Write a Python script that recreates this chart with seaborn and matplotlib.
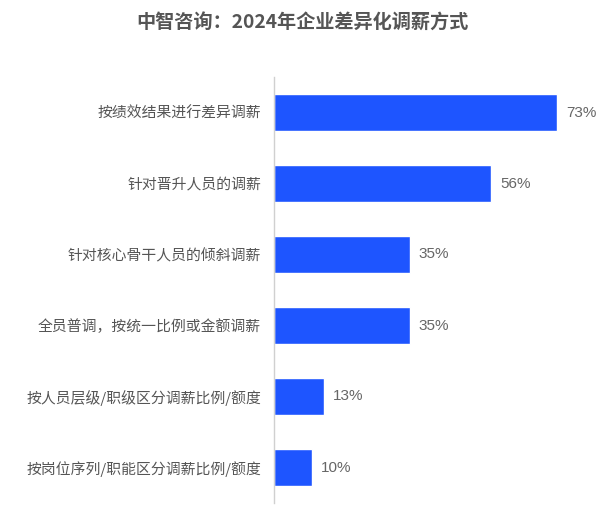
import matplotlib
matplotlib.use("Agg")
import matplotlib.pyplot as plt
import seaborn as sns
import pandas as pd

categories = ["按绩效结果进行差异调薪", "针对晋升人员的调薪", "针对核心骨干人员的倾斜调薪",
              "全员普调，按统一比例或金额调薪", "按人员层级/职级区分调薪比例/额度",
              "按岗位序列/职能区分调薪比例/额度"]
values = [73, 56, 35, 35, 13, 10]
title = "中智咨询：2024年企业差异化调薪方式"

sns.set_theme(style="white")
plt.rcParams['font.family'] = ['Noto Sans CJK SC', 'DejaVu Sans']

df = pd.DataFrame({"cat": categories, "val": values})

top_px, bot_px = 77, 503
fig = plt.figure(figsize=(6.04, 5.25), dpi=100)
ax = fig.add_axes([273.5/604, 1-bot_px/525, 1-273.5/604-0.003, (bot_px-top_px)/525])
sns.barplot(data=df, y="cat", x="val", color="#1E55FF", saturation=1, width=0.52, ax=ax)
ax.set_xlim(0, 84.5)
ax.set_ylim(5.5, -0.5)
ax.set_xlabel("")
ax.set_ylabel("")
ax.set_xticks([])
for s in ["top", "right", "bottom"]:
    ax.spines[s].set_visible(False)
ax.spines["left"].set_color("#d0d0d0")
ax.spines["left"].set_linewidth(1)
ax.tick_params(axis="y", length=0, pad=9, labelsize=10.7, labelcolor="#555555")
for i, v in enumerate(values):
    ax.text(v + 2.2, i, f"{v}%", va="center", ha="left", fontsize=11, color="#666666",
            family=["Liberation Sans", "DejaVu Sans"])
fig.text(0.5, 1-23/525, title, ha="center", va="center", fontsize=13.8,
         fontweight="bold", color="#555555")
fig.savefig("out.png", dpi=100)
